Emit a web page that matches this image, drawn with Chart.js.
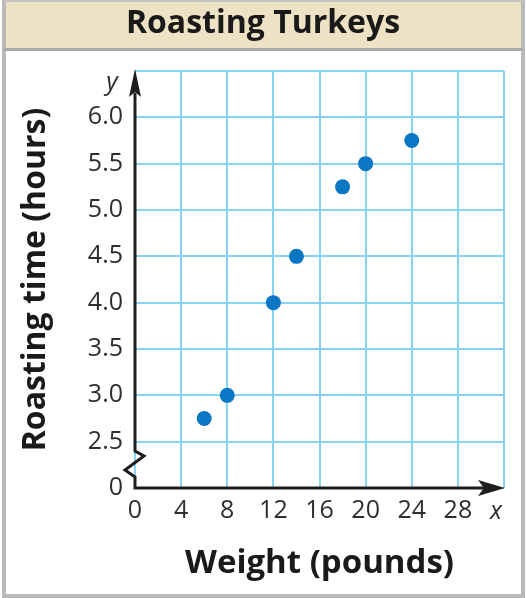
<!DOCTYPE html>
<html><head><meta charset="utf-8">
<script src="https://cdn.jsdelivr.net/npm/chart.js@4"></script>
<style>html,body{margin:0;padding:0;background:#fff}</style>
</head><body><canvas id="c" width="526" height="598"></canvas>
<script>
const weights = [6, 8, 12, 14, 18, 20, 24];
const hours = [2.75, 3.0, 4.0, 4.5, 5.25, 5.5, 5.75];
const xTickLabels = ['0', '4', '8', '12', '16', '20', '24', '28'];
const yTickLabels = ['0', '2.5', '3.0', '3.5', '4.0', '4.5', '5.0', '5.5', '6.0'];

const FONT = "'Open Sans', 'DejaVu Sans', sans-serif";
const GRID = '#86d3f4';
const INK = '#1e1e1e';

const framePlugin = {
  id: 'frame',
  beforeDraw(chart) {
    const c = chart.ctx, W = chart.width, H = chart.height;
    c.save();
    c.fillStyle = '#fff'; c.fillRect(0, 0, W, H);
    c.fillStyle = '#ede2c3'; c.fillRect(4, 1, W - 8, 47);
    c.strokeStyle = '#bababa'; c.lineWidth = 4;
    c.beginPath();
    c.moveTo(4, 0); c.lineTo(4, H - 2); c.lineTo(W - 3, H - 2); c.lineTo(W - 3, 0);
    c.stroke();
    c.strokeStyle = '#c4c4c4'; c.lineWidth = 2;
    c.beginPath(); c.moveTo(4, 1); c.lineTo(W - 3, 1); c.stroke();
    c.strokeStyle = '#a8a8a8'; c.lineWidth = 3;
    c.beginPath(); c.moveTo(4, 49.5); c.lineTo(W - 3, 49.5); c.stroke();
    c.restore();
  },
  afterDraw(chart) {
    const c = chart.ctx, xs = chart.scales.x, ys = chart.scales.y;
    const x0 = xs.getPixelForValue(0), xr = xs.getPixelForValue(32);
    const yb = ys.getPixelForValue(2), yt = ys.getPixelForValue(6.5);
    c.save();
    c.strokeStyle = INK; c.fillStyle = INK; c.lineWidth = 3; c.lineJoin = 'miter';
    c.beginPath();
    c.moveTo(x0, yt + 22);
    c.lineTo(x0, yb - 37);
    c.lineTo(x0 + 9, yb - 32);
    c.lineTo(x0 - 10, yb - 18);
    c.lineTo(x0, yb - 11);
    c.lineTo(x0, yb);
    c.lineTo(xr - 20, yb);
    c.stroke();
    c.beginPath();
    c.moveTo(x0, yt - 2); c.lineTo(x0 + 6, yt + 26); c.lineTo(x0, yt + 21); c.lineTo(x0 - 6, yt + 26);
    c.closePath(); c.fill();
    c.beginPath();
    c.moveTo(xr + 1, yb); c.lineTo(xr - 26, yb - 8); c.lineTo(xr - 20, yb); c.lineTo(xr - 26, yb + 8);
    c.closePath(); c.fill();
    c.fillStyle = '#2e2e2e';
    c.font = "italic 25px " + FONT;
    c.textAlign = 'center'; c.textBaseline = 'middle';
    c.fillText('y', x0 - 23, yt + 12);
    c.fillText('x', xr - 8, yb + 24);
    c.restore();
  }
};

new Chart(document.getElementById('c'), {
  type: 'scatter',
  data: {
    datasets: [{
      data: weights.map((w, i) => ({ x: w, y: hours[i] })),
      backgroundColor: '#0a76c4',
      borderWidth: 0,
      pointRadius: 7.5,
      pointHoverRadius: 7.5
    }]
  },
  options: {
    responsive: false,
    animation: false,
    layout: { padding: 0 },
    plugins: {
      legend: { display: false },
      tooltip: { enabled: false },
      title: {
        display: true,
        text: 'Roasting Turkeys',
        color: '#1a1a1a',
        font: { family: FONT, size: 32, weight: 'bold', lineHeight: 1.2 },
        padding: { top: 5, bottom: 27.6 }
      }
    },
    scales: {
      x: {
        type: 'linear', min: 0, max: 32,
        ticks: {
          stepSize: 4, padding: 8, color: '#2e2e2e',
          font: { family: FONT, size: 25 },
          callback: (v, i) => xTickLabels[i] ?? ''
        },
        grid: { color: GRID, lineWidth: 2, drawTicks: false },
        border: { display: false },
        title: {
          display: true, text: 'Weight (pounds)', color: '#1a1a1a',
          font: { family: FONT, size: 33, weight: 'bold', lineHeight: 1.2 },
          padding: { top: 0, bottom: 15 }
        },
        afterFit: s => { s.height = 110; }
      },
      y: {
        type: 'linear', min: 2, max: 6.5,
        ticks: {
          stepSize: 0.5, padding: 12, color: '#2e2e2e',
          font: { family: FONT, size: 25 },
          callback: (v, i) => yTickLabels[i] ?? ''
        },
        grid: { color: GRID, lineWidth: 2, drawTicks: false },
        border: { display: false },
        title: {
          display: true, text: 'Roasting time (hours)', color: '#1a1a1a',
          font: { family: FONT, size: 32, weight: 'bold', lineHeight: 1.2 },
          padding: { top: 17, bottom: 0 }
        },
        afterFit: s => { s.width = 135; }
      },
      yr: {
        type: 'linear', position: 'right', display: true,
        ticks: { display: false },
        grid: { display: false },
        border: { display: false },
        afterFit: s => { s.width = 22; }
      }
    }
  },
  plugins: [framePlugin]
});
</script>
</body></html>
